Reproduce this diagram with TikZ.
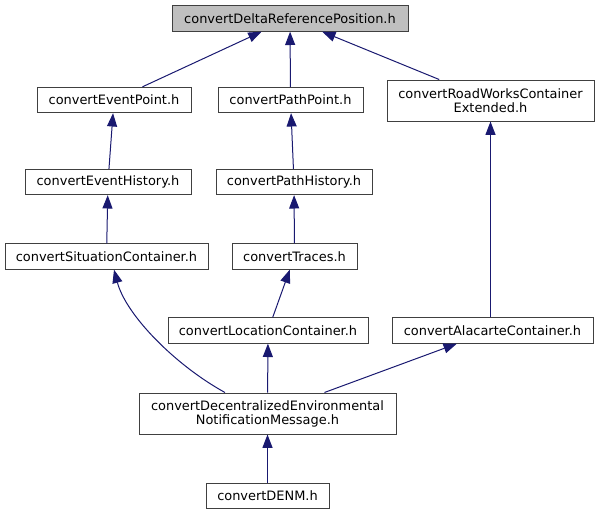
\documentclass[tikz,border=0pt]{standalone}
\usepackage{fontspec}
\setmainfont{DejaVu Sans}
\usepackage{xcolor}
\usepackage{tikz}
\usetikzlibrary{arrows.meta,positioning,calc}
\definecolor{edgeblue}{HTML}{191970}
\definecolor{rootgray}{HTML}{BFBFBF}

\begin{document}
\begin{tikzpicture}[x=0.75pt, y=-0.75pt,
  hfile/.style={draw=black!75, line width=0.75pt, rectangle, inner sep=0pt, minimum height=19pt, align=center, font=\fontsize{9.7}{10.5}\selectfont},
  dep/.style={draw=edgeblue, line width=0.75pt, -{Triangle[length=10pt,width=7.5pt]}}]
\useasboundingbox (0,0) rectangle (599,515);
\node[hfile, fill=rootgray, minimum width=177pt] (delta) at (290,18.5) {convertDeltaReferencePosition.h};
\node[hfile, minimum width=115.5pt] (evpt) at (114,100) {convertEventPoint.h};
\node[hfile, minimum width=108.75pt] (pathpt) at (290.5,100) {convertPathPoint.h};
\node[hfile, minimum width=155.25pt, minimum height=30.75pt] (roadw) at (490.5,100.5) {convertRoadWorksContainer\\Extended.h};
\node[hfile, minimum width=124.5pt] (evhist) at (108,182) {convertEventHistory.h};
\node[hfile, minimum width=117pt] (pathhist) at (294,182) {convertPathHistory.h};
\node[hfile, minimum width=152.25pt] (situ) at (106.5,256.5) {convertSituationContainer.h};
\node[hfile, minimum width=93.75pt] (traces) at (294.5,256.5) {convertTraces.h};
\node[hfile, minimum width=150pt] (locc) at (268,330.5) {convertLocationContainer.h};
\node[hfile, minimum width=150.75pt] (alac) at (492.5,330.5) {convertAlacarteContainer.h};
\node[hfile, minimum width=192.75pt, minimum height=30.75pt] (msg) at (267.5,413.5) {convertDecentralizedEnvironmental\\NotificationMessage.h};
\node[hfile, minimum width=92.25pt] (denm) at (267.5,496) {convertDENM.h};

% includes, arrow points at the included header
\draw[dep] (evpt) -- (delta);
\draw[dep] (pathpt) -- (delta);
\draw[dep] (roadw) -- (delta);
\draw[dep] (evhist) -- (evpt);
\draw[dep] (pathhist) -- (pathpt);
\draw[dep] (situ) -- (evhist);
\draw[dep] (traces) -- (pathhist);
\draw[dep] (locc) -- (traces);
\draw[dep] (alac.north -| roadw.south) -- (roadw.south);
\draw[dep] ($(msg.north)+(-42.5,0)$) .. controls (175,365) and (126,315) .. ($(situ.south)+(7.5,0)$);
\draw[dep] (msg) -- (locc);
\draw[dep] (msg) -- (alac);
\draw[dep] (denm) -- (msg);
\end{tikzpicture}
\end{document}
